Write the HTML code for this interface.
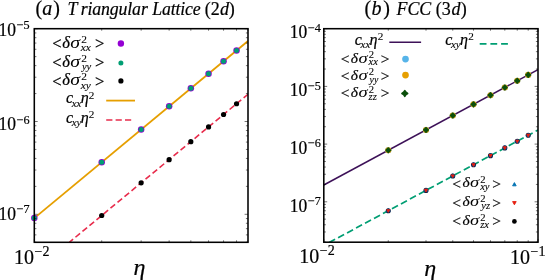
<!DOCTYPE html>
<html><head><meta charset="utf-8"><title>fig</title>
<style>html,body{margin:0;padding:0;background:#fff;overflow:hidden}svg{display:block;opacity:0.999;will-change:transform}text{fill:#000;white-space:pre;stroke:#000;stroke-width:0.2px;paint-order:stroke fill}</style></head>
<body>
<svg width="546" height="280" viewBox="0 0 546 280">
<rect width="546" height="280" fill="#fff"/>
<defs><clipPath id="ca"><rect x="34.3" y="28.7" width="213.7" height="213.60000000000002"/></clipPath><clipPath id="cb"><rect x="323.8" y="28.7" width="214.2" height="213.5"/></clipPath></defs>
<g clip-path="url(#ca)">
<line x1="34.30" y1="218.10" x2="248.00" y2="40.99" stroke="#E69F00" stroke-width="1.8"/>
<line x1="69.38" y1="242.30" x2="248.00" y2="94.26" stroke="#E82C4C" stroke-width="1.6" stroke-dasharray="6.0 3.1" stroke-dashoffset="1.2"/>
</g>
<circle cx="34.30" cy="218.10" r="3.25" fill="#9400D3"/>
<circle cx="101.71" cy="162.23" r="3.25" fill="#9400D3"/>
<circle cx="141.15" cy="129.55" r="3.25" fill="#9400D3"/>
<circle cx="169.13" cy="106.36" r="3.25" fill="#9400D3"/>
<circle cx="190.83" cy="88.37" r="3.25" fill="#9400D3"/>
<circle cx="208.56" cy="73.68" r="3.25" fill="#9400D3"/>
<circle cx="223.56" cy="61.25" r="3.25" fill="#9400D3"/>
<circle cx="236.54" cy="50.49" r="3.25" fill="#9400D3"/>
<circle cx="34.30" cy="218.10" r="2.5" fill="#009E73"/>
<circle cx="101.71" cy="162.23" r="2.5" fill="#009E73"/>
<circle cx="141.15" cy="129.55" r="2.5" fill="#009E73"/>
<circle cx="169.13" cy="106.36" r="2.5" fill="#009E73"/>
<circle cx="190.83" cy="88.37" r="2.5" fill="#009E73"/>
<circle cx="208.56" cy="73.68" r="2.5" fill="#009E73"/>
<circle cx="223.56" cy="61.25" r="2.5" fill="#009E73"/>
<circle cx="236.54" cy="50.49" r="2.5" fill="#009E73"/>
<circle cx="101.71" cy="215.50" r="2.6" fill="#000"/>
<circle cx="141.15" cy="182.82" r="2.6" fill="#000"/>
<circle cx="169.13" cy="159.63" r="2.6" fill="#000"/>
<circle cx="190.83" cy="141.64" r="2.6" fill="#000"/>
<circle cx="208.56" cy="126.95" r="2.6" fill="#000"/>
<circle cx="223.56" cy="114.52" r="2.6" fill="#000"/>
<circle cx="236.54" cy="103.76" r="2.6" fill="#000"/>
<g clip-path="url(#cb)">
<line x1="323.80" y1="185.00" x2="538.00" y2="69.60" stroke="#3D1158" stroke-width="1.5"/>
<line x1="329.11" y1="242.58" x2="538.00" y2="130.04" stroke="#009E73" stroke-width="1.7" stroke-dasharray="6.8 3.4"/>
</g>
<circle cx="388.28" cy="150.26" r="3.05" fill="#56B4E9"/>
<circle cx="426.00" cy="129.94" r="3.05" fill="#56B4E9"/>
<circle cx="452.76" cy="115.52" r="3.05" fill="#56B4E9"/>
<circle cx="473.52" cy="104.34" r="3.05" fill="#56B4E9"/>
<circle cx="490.48" cy="95.20" r="3.05" fill="#56B4E9"/>
<circle cx="504.82" cy="87.48" r="3.05" fill="#56B4E9"/>
<circle cx="517.24" cy="80.78" r="3.05" fill="#56B4E9"/>
<circle cx="528.20" cy="74.88" r="3.05" fill="#56B4E9"/>
<circle cx="388.28" cy="150.26" r="3.05" fill="#E69F00"/>
<circle cx="426.00" cy="129.94" r="3.05" fill="#E69F00"/>
<circle cx="452.76" cy="115.52" r="3.05" fill="#E69F00"/>
<circle cx="473.52" cy="104.34" r="3.05" fill="#E69F00"/>
<circle cx="490.48" cy="95.20" r="3.05" fill="#E69F00"/>
<circle cx="504.82" cy="87.48" r="3.05" fill="#E69F00"/>
<circle cx="517.24" cy="80.78" r="3.05" fill="#E69F00"/>
<circle cx="528.20" cy="74.88" r="3.05" fill="#E69F00"/>
<path d="M388.28 148.01L389.34 149.20L390.53 150.26L389.34 151.32L388.28 152.51L387.22 151.32L386.03 150.26L387.22 149.20Z" fill="#0B4F0B" stroke="#0B4F0B" stroke-width="1.6" stroke-linejoin="round"/>
<path d="M426.00 127.69L427.06 128.88L428.25 129.94L427.06 131.00L426.00 132.19L424.94 131.00L423.75 129.94L424.94 128.88Z" fill="#0B4F0B" stroke="#0B4F0B" stroke-width="1.6" stroke-linejoin="round"/>
<path d="M452.76 113.27L453.82 114.46L455.01 115.52L453.82 116.58L452.76 117.77L451.70 116.58L450.51 115.52L451.70 114.46Z" fill="#0B4F0B" stroke="#0B4F0B" stroke-width="1.6" stroke-linejoin="round"/>
<path d="M473.52 102.09L474.58 103.28L475.77 104.34L474.58 105.40L473.52 106.59L472.46 105.40L471.27 104.34L472.46 103.28Z" fill="#0B4F0B" stroke="#0B4F0B" stroke-width="1.6" stroke-linejoin="round"/>
<path d="M490.48 92.95L491.54 94.14L492.73 95.20L491.54 96.26L490.48 97.45L489.42 96.26L488.23 95.20L489.42 94.14Z" fill="#0B4F0B" stroke="#0B4F0B" stroke-width="1.6" stroke-linejoin="round"/>
<path d="M504.82 85.23L505.88 86.42L507.07 87.48L505.88 88.54L504.82 89.73L503.76 88.54L502.57 87.48L503.76 86.42Z" fill="#0B4F0B" stroke="#0B4F0B" stroke-width="1.6" stroke-linejoin="round"/>
<path d="M517.24 78.53L518.30 79.72L519.49 80.78L518.30 81.84L517.24 83.03L516.18 81.84L514.99 80.78L516.18 79.72Z" fill="#0B4F0B" stroke="#0B4F0B" stroke-width="1.6" stroke-linejoin="round"/>
<path d="M528.20 72.63L529.26 73.82L530.45 74.88L529.26 75.94L528.20 77.13L527.14 75.94L525.95 74.88L527.14 73.82Z" fill="#0B4F0B" stroke="#0B4F0B" stroke-width="1.6" stroke-linejoin="round"/>
<circle cx="388.28" cy="210.70" r="2.55" fill="#0d2145"/>
<path d="M388.28 208.55L390.04 211.69L386.52 211.69Z" fill="#0b4f8f" stroke="#0b4f8f" stroke-width="0.9" stroke-linejoin="round"/>
<path d="M386.93 209.70L389.63 209.70L388.28 212.05Z" fill="#E51E10" stroke="#E51E10" stroke-width="1.1" stroke-linejoin="round"/>
<circle cx="426.00" cy="190.38" r="2.55" fill="#0d2145"/>
<path d="M426.00 188.23L427.76 191.37L424.24 191.37Z" fill="#0b4f8f" stroke="#0b4f8f" stroke-width="0.9" stroke-linejoin="round"/>
<path d="M424.65 189.38L427.35 189.38L426.00 191.73Z" fill="#E51E10" stroke="#E51E10" stroke-width="1.1" stroke-linejoin="round"/>
<circle cx="452.76" cy="175.96" r="2.55" fill="#0d2145"/>
<path d="M452.76 173.81L454.52 176.96L451.00 176.96Z" fill="#0b4f8f" stroke="#0b4f8f" stroke-width="0.9" stroke-linejoin="round"/>
<path d="M451.41 174.96L454.11 174.96L452.76 177.31Z" fill="#E51E10" stroke="#E51E10" stroke-width="1.1" stroke-linejoin="round"/>
<circle cx="473.52" cy="164.78" r="2.55" fill="#0d2145"/>
<path d="M473.52 162.63L475.28 165.77L471.76 165.77Z" fill="#0b4f8f" stroke="#0b4f8f" stroke-width="0.9" stroke-linejoin="round"/>
<path d="M472.17 163.78L474.87 163.78L473.52 166.13Z" fill="#E51E10" stroke="#E51E10" stroke-width="1.1" stroke-linejoin="round"/>
<circle cx="490.48" cy="155.64" r="2.55" fill="#0d2145"/>
<path d="M490.48 153.49L492.24 156.64L488.72 156.64Z" fill="#0b4f8f" stroke="#0b4f8f" stroke-width="0.9" stroke-linejoin="round"/>
<path d="M489.13 154.64L491.83 154.64L490.48 156.99Z" fill="#E51E10" stroke="#E51E10" stroke-width="1.1" stroke-linejoin="round"/>
<circle cx="504.82" cy="147.91" r="2.55" fill="#0d2145"/>
<path d="M504.82 145.76L506.58 148.91L503.06 148.91Z" fill="#0b4f8f" stroke="#0b4f8f" stroke-width="0.9" stroke-linejoin="round"/>
<path d="M503.47 146.91L506.17 146.91L504.82 149.26Z" fill="#E51E10" stroke="#E51E10" stroke-width="1.1" stroke-linejoin="round"/>
<circle cx="517.24" cy="141.22" r="2.55" fill="#0d2145"/>
<path d="M517.24 139.07L519.00 142.22L515.48 142.22Z" fill="#0b4f8f" stroke="#0b4f8f" stroke-width="0.9" stroke-linejoin="round"/>
<path d="M515.89 140.22L518.59 140.22L517.24 142.57Z" fill="#E51E10" stroke="#E51E10" stroke-width="1.1" stroke-linejoin="round"/>
<circle cx="528.20" cy="135.32" r="2.55" fill="#0d2145"/>
<path d="M528.20 133.17L529.96 136.31L526.44 136.31Z" fill="#0b4f8f" stroke="#0b4f8f" stroke-width="0.9" stroke-linejoin="round"/>
<path d="M526.85 134.32L529.55 134.32L528.20 136.67Z" fill="#E51E10" stroke="#E51E10" stroke-width="1.1" stroke-linejoin="round"/>
<g stroke="#000" stroke-width="0.55" fill="none">
<path d="M34.30 242.30v-3.2M34.30 28.70v3.2"/>
<path d="M101.71 242.30v-2.0M101.71 28.70v2.0"/>
<path d="M141.15 242.30v-2.0M141.15 28.70v2.0"/>
<path d="M169.13 242.30v-2.0M169.13 28.70v2.0"/>
<path d="M190.83 242.30v-2.0M190.83 28.70v2.0"/>
<path d="M208.56 242.30v-2.0M208.56 28.70v2.0"/>
<path d="M223.56 242.30v-2.0M223.56 28.70v2.0"/>
<path d="M236.54 242.30v-2.0M236.54 28.70v2.0"/>
<path d="M248.00 242.30v-2.0M248.00 28.70v2.0"/>
<path d="M34.30 242.24h2.1M248.00 242.24h-2.1"/>
<path d="M34.30 234.89h2.1M248.00 234.89h-2.1"/>
<path d="M34.30 228.67h2.1M248.00 228.67h-2.1"/>
<path d="M34.30 223.29h2.1M248.00 223.29h-2.1"/>
<path d="M34.30 218.55h2.1M248.00 218.55h-2.1"/>
<path d="M34.30 214.30h3.4M248.00 214.30h-3.4"/>
<path d="M34.30 186.36h2.1M248.00 186.36h-2.1"/>
<path d="M34.30 170.02h2.1M248.00 170.02h-2.1"/>
<path d="M34.30 158.43h2.1M248.00 158.43h-2.1"/>
<path d="M34.30 149.44h2.1M248.00 149.44h-2.1"/>
<path d="M34.30 142.09h2.1M248.00 142.09h-2.1"/>
<path d="M34.30 135.87h2.1M248.00 135.87h-2.1"/>
<path d="M34.30 130.49h2.1M248.00 130.49h-2.1"/>
<path d="M34.30 125.75h2.1M248.00 125.75h-2.1"/>
<path d="M34.30 121.50h3.4M248.00 121.50h-3.4"/>
<path d="M34.30 93.56h2.1M248.00 93.56h-2.1"/>
<path d="M34.30 77.22h2.1M248.00 77.22h-2.1"/>
<path d="M34.30 65.63h2.1M248.00 65.63h-2.1"/>
<path d="M34.30 56.64h2.1M248.00 56.64h-2.1"/>
<path d="M34.30 49.29h2.1M248.00 49.29h-2.1"/>
<path d="M34.30 43.07h2.1M248.00 43.07h-2.1"/>
<path d="M34.30 37.69h2.1M248.00 37.69h-2.1"/>
<path d="M34.30 32.95h2.1M248.00 32.95h-2.1"/>
<path d="M34.30 28.70h3.4M248.00 28.70h-3.4"/>
<path d="M323.80 242.20v-3.2M323.80 28.70v3.2"/>
<path d="M388.28 242.20v-2.0M388.28 28.70v2.0"/>
<path d="M426.00 242.20v-2.0M426.00 28.70v2.0"/>
<path d="M452.76 242.20v-2.0M452.76 28.70v2.0"/>
<path d="M473.52 242.20v-2.0M473.52 28.70v2.0"/>
<path d="M490.48 242.20v-2.0M490.48 28.70v2.0"/>
<path d="M504.82 242.20v-2.0M504.82 28.70v2.0"/>
<path d="M517.24 242.20v-2.0M517.24 28.70v2.0"/>
<path d="M528.20 242.20v-2.0M528.20 28.70v2.0"/>
<path d="M538.00 242.20v-3.2M538.00 28.70v3.2"/>
<path d="M323.80 242.13h2.1M538.00 242.13h-2.1"/>
<path d="M323.80 231.97h2.1M538.00 231.97h-2.1"/>
<path d="M323.80 224.76h2.1M538.00 224.76h-2.1"/>
<path d="M323.80 219.17h2.1M538.00 219.17h-2.1"/>
<path d="M323.80 214.60h2.1M538.00 214.60h-2.1"/>
<path d="M323.80 210.74h2.1M538.00 210.74h-2.1"/>
<path d="M323.80 207.39h2.1M538.00 207.39h-2.1"/>
<path d="M323.80 204.44h2.1M538.00 204.44h-2.1"/>
<path d="M323.80 201.80h3.4M538.00 201.80h-3.4"/>
<path d="M323.80 184.43h2.1M538.00 184.43h-2.1"/>
<path d="M323.80 174.27h2.1M538.00 174.27h-2.1"/>
<path d="M323.80 167.06h2.1M538.00 167.06h-2.1"/>
<path d="M323.80 161.47h2.1M538.00 161.47h-2.1"/>
<path d="M323.80 156.90h2.1M538.00 156.90h-2.1"/>
<path d="M323.80 153.04h2.1M538.00 153.04h-2.1"/>
<path d="M323.80 149.69h2.1M538.00 149.69h-2.1"/>
<path d="M323.80 146.74h2.1M538.00 146.74h-2.1"/>
<path d="M323.80 144.10h3.4M538.00 144.10h-3.4"/>
<path d="M323.80 126.73h2.1M538.00 126.73h-2.1"/>
<path d="M323.80 116.57h2.1M538.00 116.57h-2.1"/>
<path d="M323.80 109.36h2.1M538.00 109.36h-2.1"/>
<path d="M323.80 103.77h2.1M538.00 103.77h-2.1"/>
<path d="M323.80 99.20h2.1M538.00 99.20h-2.1"/>
<path d="M323.80 95.34h2.1M538.00 95.34h-2.1"/>
<path d="M323.80 91.99h2.1M538.00 91.99h-2.1"/>
<path d="M323.80 89.04h2.1M538.00 89.04h-2.1"/>
<path d="M323.80 86.40h3.4M538.00 86.40h-3.4"/>
<path d="M323.80 69.03h2.1M538.00 69.03h-2.1"/>
<path d="M323.80 58.87h2.1M538.00 58.87h-2.1"/>
<path d="M323.80 51.66h2.1M538.00 51.66h-2.1"/>
<path d="M323.80 46.07h2.1M538.00 46.07h-2.1"/>
<path d="M323.80 41.50h2.1M538.00 41.50h-2.1"/>
<path d="M323.80 37.64h2.1M538.00 37.64h-2.1"/>
<path d="M323.80 34.29h2.1M538.00 34.29h-2.1"/>
<path d="M323.80 31.34h2.1M538.00 31.34h-2.1"/>
<path d="M323.80 28.70h3.4M538.00 28.70h-3.4"/>
</g>
<rect x="34.30" y="28.70" width="213.70" height="213.60" fill="none" stroke="#000" stroke-width="1.55"/>
<rect x="323.80" y="28.70" width="214.20" height="213.50" fill="none" stroke="#000" stroke-width="1.55"/>
<text x="-1.40" y="36.00" transform="translate(0 36.00) scale(1 1.06) translate(0 -36.00)" style="font-family:&quot;Liberation Serif&quot;,serif;font-size:17.5px">10</text><text x="16.70" y="29.40" style="font-family:&quot;Liberation Serif&quot;,serif;font-size:12.2px">−5</text>
<text x="-1.40" y="130.20" transform="translate(0 130.20) scale(1 1.06) translate(0 -130.20)" style="font-family:&quot;Liberation Serif&quot;,serif;font-size:17.5px">10</text><text x="16.70" y="123.60" style="font-family:&quot;Liberation Serif&quot;,serif;font-size:12.2px">−6</text>
<text x="-1.40" y="220.00" transform="translate(0 220.00) scale(1 1.06) translate(0 -220.00)" style="font-family:&quot;Liberation Serif&quot;,serif;font-size:17.5px">10</text><text x="16.70" y="213.40" style="font-family:&quot;Liberation Serif&quot;,serif;font-size:12.2px">−7</text>
<text x="289.80" y="38.40" transform="translate(0 38.40) scale(1 1.06) translate(0 -38.40)" style="font-family:&quot;Liberation Serif&quot;,serif;font-size:17.5px">10</text><text x="307.90" y="31.80" style="font-family:&quot;Liberation Serif&quot;,serif;font-size:12.2px">−4</text>
<text x="289.80" y="96.10" transform="translate(0 96.10) scale(1 1.06) translate(0 -96.10)" style="font-family:&quot;Liberation Serif&quot;,serif;font-size:17.5px">10</text><text x="307.90" y="89.50" style="font-family:&quot;Liberation Serif&quot;,serif;font-size:12.2px">−5</text>
<text x="289.80" y="154.00" transform="translate(0 154.00) scale(1 1.06) translate(0 -154.00)" style="font-family:&quot;Liberation Serif&quot;,serif;font-size:17.5px">10</text><text x="307.90" y="147.40" style="font-family:&quot;Liberation Serif&quot;,serif;font-size:12.2px">−6</text>
<text x="289.80" y="211.80" transform="translate(0 211.80) scale(1 1.06) translate(0 -211.80)" style="font-family:&quot;Liberation Serif&quot;,serif;font-size:17.5px">10</text><text x="307.90" y="205.20" style="font-family:&quot;Liberation Serif&quot;,serif;font-size:12.2px">−7</text>
<text x="14.00" y="263.60" style="font-family:&quot;Liberation Serif&quot;,serif;font-size:20px">10</text><text x="34.60" y="256.00" style="font-family:&quot;Liberation Serif&quot;,serif;font-size:14px">−2</text>
<text x="299.20" y="263.00" style="font-family:&quot;Liberation Serif&quot;,serif;font-size:20px">10</text><text x="319.80" y="255.40" style="font-family:&quot;Liberation Serif&quot;,serif;font-size:14px">−2</text>
<text x="509.90" y="263.50" style="font-family:&quot;Liberation Serif&quot;,serif;font-size:20px">10</text><text x="530.50" y="255.90" style="font-family:&quot;Liberation Serif&quot;,serif;font-size:14px">−1</text>
<text x="133.6" y="274.8" style="font-family:&quot;Liberation Serif&quot;,serif;font-size:24px;font-style:italic">η</text>
<text x="424.3" y="275.5" style="font-family:&quot;Liberation Serif&quot;,serif;font-size:24px;font-style:italic">η</text>
<text x="35.38" y="14.75" style="font-family:&quot;Liberation Serif&quot;,serif;font-size:20.0px;font-style:normal;letter-spacing:0.000px">(</text>
<text x="42.29" y="14.75" style="font-family:&quot;Liberation Serif&quot;,serif;font-size:20.0px;font-style:italic;letter-spacing:0.000px">a</text>
<text x="53.17" y="14.75" style="font-family:&quot;Liberation Serif&quot;,serif;font-size:20.0px;font-style:normal;letter-spacing:0.000px">)</text>
<text x="67.38" y="14.75" style="font-family:&quot;Liberation Serif&quot;,serif;font-size:17.9px;font-style:italic;letter-spacing:0.000px">T</text>
<text x="80.64" y="14.75" style="font-family:&quot;Liberation Serif&quot;,serif;font-size:17.8px;font-style:italic;letter-spacing:-0.124px">riangular</text>
<text x="152.28" y="14.75" style="font-family:&quot;Liberation Serif&quot;,serif;font-size:17.8px;font-style:italic;letter-spacing:-0.154px">Lattice</text>
<text x="204.74" y="14.75" style="font-family:&quot;Liberation Serif&quot;,serif;font-size:18.0px;font-style:normal;letter-spacing:0.112px">(2</text>
<text x="219.92" y="14.75" style="font-family:&quot;Liberation Serif&quot;,serif;font-size:18.0px;font-style:italic;letter-spacing:0.000px">d</text>
<text x="228.64" y="14.75" style="font-family:&quot;Liberation Serif&quot;,serif;font-size:18.0px;font-style:normal;letter-spacing:0.000px">)</text>
<text x="364.38" y="14.95" style="font-family:&quot;Liberation Serif&quot;,serif;font-size:20.0px;font-style:normal;letter-spacing:0.000px">(</text>
<text x="371.48" y="14.95" style="font-family:&quot;Liberation Serif&quot;,serif;font-size:20.0px;font-style:italic;letter-spacing:0.000px">b</text>
<text x="383.18" y="14.95" style="font-family:&quot;Liberation Serif&quot;,serif;font-size:20.0px;font-style:normal;letter-spacing:0.000px">)</text>
<text x="396.58" y="14.95" style="font-family:&quot;Liberation Serif&quot;,serif;font-size:17.9px;font-style:italic;letter-spacing:-0.130px">FCC</text>
<text x="435.84" y="14.95" style="font-family:&quot;Liberation Serif&quot;,serif;font-size:18.0px;font-style:normal;letter-spacing:-0.069px">(3</text>
<text x="451.52" y="14.95" style="font-family:&quot;Liberation Serif&quot;,serif;font-size:18.0px;font-style:italic;letter-spacing:0.000px">d</text>
<text x="460.84" y="14.95" style="font-family:&quot;Liberation Serif&quot;,serif;font-size:18.0px;font-style:normal;letter-spacing:0.000px">)</text>
<text style="font-family:&quot;Liberation Serif&quot;,serif"><tspan x="52.23" y="48.90" style="font-size:16.50px;font-style:normal">&lt;</tspan><tspan x="62.34" y="47.60" style="font-size:16.50px;font-style:italic">δ</tspan><tspan x="70.19" y="47.60" textLength="9.76" lengthAdjust="spacingAndGlyphs" style="font-size:16.50px;font-style:italic;stroke-width:0">σ</tspan><tspan x="81.24" y="42.70" style="font-size:11.40px;font-style:normal;stroke-width:0.1px">2</tspan><tspan x="80.78" y="50.80" style="font-size:11.40px;font-style:italic;stroke-width:0.1px">xx</tspan><tspan x="95.03" y="48.90" style="font-size:16.50px;font-style:normal">&gt;</tspan></text>
<text style="font-family:&quot;Liberation Serif&quot;,serif"><tspan x="52.23" y="67.90" style="font-size:16.50px;font-style:normal">&lt;</tspan><tspan x="62.34" y="66.60" style="font-size:16.50px;font-style:italic">δ</tspan><tspan x="70.19" y="66.60" textLength="9.76" lengthAdjust="spacingAndGlyphs" style="font-size:16.50px;font-style:italic;stroke-width:0">σ</tspan><tspan x="81.24" y="61.70" style="font-size:11.40px;font-style:normal;stroke-width:0.1px">2</tspan><tspan x="81.89" y="69.80" style="font-size:10.60px;font-style:italic;stroke-width:0.1px">yy</tspan><tspan x="95.03" y="67.90" style="font-size:16.50px;font-style:normal">&gt;</tspan></text>
<text style="font-family:&quot;Liberation Serif&quot;,serif"><tspan x="52.23" y="86.60" style="font-size:16.50px;font-style:normal">&lt;</tspan><tspan x="62.34" y="85.30" style="font-size:16.50px;font-style:italic">δ</tspan><tspan x="70.19" y="85.30" textLength="9.76" lengthAdjust="spacingAndGlyphs" style="font-size:16.50px;font-style:italic;stroke-width:0">σ</tspan><tspan x="81.24" y="80.40" style="font-size:11.40px;font-style:normal;stroke-width:0.1px">2</tspan><tspan x="80.78" y="88.50" style="font-size:11.40px;font-style:italic;stroke-width:0.1px">xy</tspan><tspan x="95.03" y="86.60" style="font-size:16.50px;font-style:normal">&gt;</tspan></text>
<circle cx="120.9" cy="43.5" r="3.2" fill="#9400D3"/>
<circle cx="120.9" cy="63.0" r="2.5" fill="#009E73"/>
<circle cx="120.9" cy="80.9" r="2.6" fill="#000"/>
<text style="font-family:&quot;Liberation Serif&quot;,serif"><tspan x="65.95" y="103.30" style="font-size:16.00px;font-style:italic">c</tspan><tspan x="71.67" y="106.50" style="font-size:11.00px;font-style:italic;stroke-width:0.1px">xx</tspan><tspan x="80.70" y="103.30" style="font-size:16.00px;font-style:italic">η</tspan><tspan x="88.85" y="98.50" style="font-size:11.20px;font-style:normal;stroke-width:0.1px">2</tspan></text>
<text style="font-family:&quot;Liberation Serif&quot;,serif"><tspan x="65.95" y="122.90" style="font-size:16.00px;font-style:italic">c</tspan><tspan x="71.67" y="126.10" style="font-size:11.00px;font-style:italic;stroke-width:0.1px">xy</tspan><tspan x="80.70" y="122.90" style="font-size:16.00px;font-style:italic">η</tspan><tspan x="88.85" y="118.10" style="font-size:11.20px;font-style:normal;stroke-width:0.1px">2</tspan></text>
<line x1="106.2" y1="100.6" x2="135.0" y2="100.6" stroke="#E69F00" stroke-width="1.8"/>
<line x1="106.2" y1="120.0" x2="131.2" y2="120.0" stroke="#E82C4C" stroke-width="1.7" stroke-dasharray="6.2 3.2"/>
<text style="font-family:&quot;Liberation Serif&quot;,serif"><tspan x="354.85" y="44.80" style="font-size:16.00px;font-style:italic">c</tspan><tspan x="360.57" y="48.00" style="font-size:11.00px;font-style:italic;stroke-width:0.1px">xx</tspan><tspan x="369.60" y="44.80" style="font-size:16.00px;font-style:italic">η</tspan><tspan x="377.75" y="40.00" style="font-size:11.20px;font-style:normal;stroke-width:0.1px">2</tspan></text>
<line x1="389.3" y1="42.2" x2="421.1" y2="42.2" stroke="#3D1158" stroke-width="1.5"/>
<text style="font-family:&quot;Liberation Serif&quot;,serif"><tspan x="445.25" y="44.80" style="font-size:16.00px;font-style:italic">c</tspan><tspan x="450.97" y="48.00" style="font-size:11.00px;font-style:italic;stroke-width:0.1px">xy</tspan><tspan x="460.00" y="44.80" style="font-size:16.00px;font-style:italic">η</tspan><tspan x="468.15" y="40.00" style="font-size:11.20px;font-style:normal;stroke-width:0.1px">2</tspan></text>
<line x1="479.7" y1="43.9" x2="508.2" y2="43.9" stroke="#009E73" stroke-width="1.7" stroke-dasharray="6.8 3.9"/>
<text style="font-family:&quot;Liberation Serif&quot;,serif"><tspan x="340.77" y="63.70" style="font-size:15.50px;font-style:normal">&lt;</tspan><tspan x="350.86" y="62.50" style="font-size:15.50px;font-style:italic">δ</tspan><tspan x="358.51" y="62.50" textLength="9.17" lengthAdjust="spacingAndGlyphs" style="font-size:15.50px;font-style:italic;stroke-width:0">σ</tspan><tspan x="368.67" y="58.30" style="font-size:10.60px;font-style:normal;stroke-width:0.1px">2</tspan><tspan x="368.57" y="65.40" style="font-size:10.60px;font-style:italic;stroke-width:0.1px">xx</tspan><tspan x="380.77" y="63.70" style="font-size:15.50px;font-style:normal">&gt;</tspan></text>
<text style="font-family:&quot;Liberation Serif&quot;,serif"><tspan x="340.77" y="80.80" style="font-size:15.50px;font-style:normal">&lt;</tspan><tspan x="350.86" y="79.60" style="font-size:15.50px;font-style:italic">δ</tspan><tspan x="358.51" y="79.60" textLength="9.17" lengthAdjust="spacingAndGlyphs" style="font-size:15.50px;font-style:italic;stroke-width:0">σ</tspan><tspan x="368.67" y="75.40" style="font-size:10.60px;font-style:normal;stroke-width:0.1px">2</tspan><tspan x="369.62" y="82.50" style="font-size:9.86px;font-style:italic;stroke-width:0.1px">yy</tspan><tspan x="380.77" y="80.80" style="font-size:15.50px;font-style:normal">&gt;</tspan></text>
<text style="font-family:&quot;Liberation Serif&quot;,serif"><tspan x="340.77" y="98.20" style="font-size:15.50px;font-style:normal">&lt;</tspan><tspan x="350.86" y="97.00" style="font-size:15.50px;font-style:italic">δ</tspan><tspan x="358.51" y="97.00" textLength="9.17" lengthAdjust="spacingAndGlyphs" style="font-size:15.50px;font-style:italic;stroke-width:0">σ</tspan><tspan x="368.67" y="92.80" style="font-size:10.60px;font-style:normal;stroke-width:0.1px">2</tspan><tspan x="368.57" y="99.90" style="font-size:10.60px;font-style:italic;stroke-width:0.1px">zz</tspan><tspan x="380.77" y="98.20" style="font-size:15.50px;font-style:normal">&gt;</tspan></text>
<circle cx="405.5" cy="59.1" r="3.35" fill="#56B4E9"/>
<circle cx="405.5" cy="75.1" r="3.35" fill="#E69F00"/>
<path d="M404.80 90.65L405.95 92.30L407.60 93.45L405.95 94.60L404.80 96.25L403.65 94.60L402.00 93.45L403.65 92.30Z" fill="#0B4F0B" stroke="#0B4F0B" stroke-width="1.7" stroke-linejoin="round"/>
<text style="font-family:&quot;Liberation Serif&quot;,serif"><tspan x="452.37" y="188.60" style="font-size:15.50px;font-style:normal">&lt;</tspan><tspan x="462.46" y="187.40" style="font-size:15.50px;font-style:italic">δ</tspan><tspan x="470.11" y="187.40" textLength="9.17" lengthAdjust="spacingAndGlyphs" style="font-size:15.50px;font-style:italic;stroke-width:0">σ</tspan><tspan x="480.27" y="183.20" style="font-size:10.60px;font-style:normal;stroke-width:0.1px">2</tspan><tspan x="480.17" y="190.30" style="font-size:10.60px;font-style:italic;stroke-width:0.1px">xy</tspan><tspan x="492.37" y="188.60" style="font-size:15.50px;font-style:normal">&gt;</tspan></text>
<text style="font-family:&quot;Liberation Serif&quot;,serif"><tspan x="452.37" y="207.60" style="font-size:15.50px;font-style:normal">&lt;</tspan><tspan x="462.46" y="206.40" style="font-size:15.50px;font-style:italic">δ</tspan><tspan x="470.11" y="206.40" textLength="9.17" lengthAdjust="spacingAndGlyphs" style="font-size:15.50px;font-style:italic;stroke-width:0">σ</tspan><tspan x="480.27" y="202.20" style="font-size:10.60px;font-style:normal;stroke-width:0.1px">2</tspan><tspan x="481.29" y="209.30" style="font-size:10.60px;font-style:italic;stroke-width:0.1px">yz</tspan><tspan x="492.37" y="207.60" style="font-size:15.50px;font-style:normal">&gt;</tspan></text>
<text style="font-family:&quot;Liberation Serif&quot;,serif"><tspan x="452.37" y="226.30" style="font-size:15.50px;font-style:normal">&lt;</tspan><tspan x="462.46" y="225.10" style="font-size:15.50px;font-style:italic">δ</tspan><tspan x="470.11" y="225.10" textLength="9.17" lengthAdjust="spacingAndGlyphs" style="font-size:15.50px;font-style:italic;stroke-width:0">σ</tspan><tspan x="480.27" y="220.90" style="font-size:10.60px;font-style:normal;stroke-width:0.1px">2</tspan><tspan x="480.17" y="228.00" style="font-size:10.60px;font-style:italic;stroke-width:0.1px">zx</tspan><tspan x="492.37" y="226.30" style="font-size:15.50px;font-style:normal">&gt;</tspan></text>
<path d="M514.40 182.60L516.20 185.83L512.60 185.83Z" fill="#0072B2" stroke="#0072B2" stroke-width="0.9" stroke-linejoin="round"/>
<path d="M514.40 204.80L516.20 201.57L512.60 201.57Z" fill="#E51E10" stroke="#E51E10" stroke-width="0.9" stroke-linejoin="round"/>
<circle cx="514.4" cy="221.4" r="2.35" fill="#000"/>
</svg>
</body></html>
